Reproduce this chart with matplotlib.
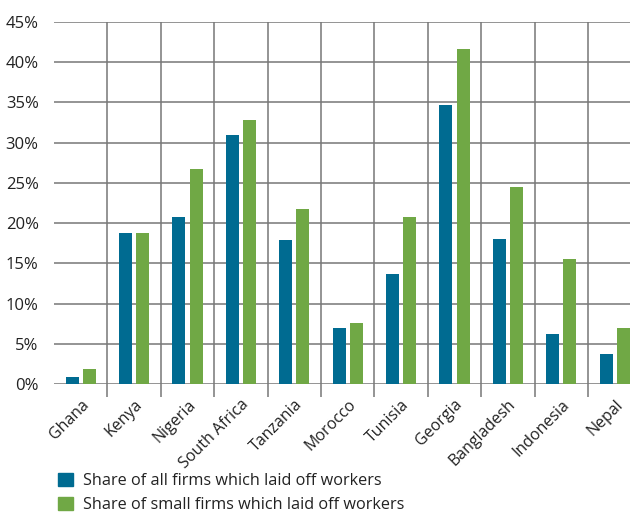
import numpy as np
import matplotlib.pyplot as plt
from matplotlib.patches import Patch

plt.rcParams['font.family'] = ['Open Sans', 'DejaVu Sans']

countries = ["Ghana", "Kenya", "Nigeria", "South Africa", "Tanzania", "Morocco",
             "Tunisia", "Georgia", "Bangladesh", "Indonesia", "Nepal"]
all_firms = [0.9, 18.8, 20.8, 30.9, 17.9, 7.0, 13.7, 34.7, 18.0, 6.2, 3.7]
small_firms = [1.9, 18.8, 26.7, 32.8, 21.8, 7.6, 20.8, 41.7, 24.5, 15.5, 7.0]

blue = "#006b91"
green = "#70a845"
grid_col = "#777777"

fig = plt.figure(figsize=(6.3, 5.12), dpi=100)
# axes runs past the right edge of the figure, so Nepal gets cut off
ax = fig.add_axes([54/630, 128/512, 587.4/630, 362/512])

x = np.arange(len(countries))
w = 0.245
off = 0.16
ax.bar(x - off, all_firms, w, color=blue, zorder=3)
ax.bar(x + off, small_firms, w, color=green, zorder=3)

ax.set_xlim(-0.5, len(countries) - 0.5)
ax.set_ylim(0, 45)
ax.set_yticks(np.arange(0, 46, 5))
ax.set_yticklabels([f"{v}%" for v in range(0, 46, 5)], fontsize=12, color="#222222")
ax.yaxis.grid(True, color=grid_col, linewidth=1.1, zorder=0)
ax.tick_params(axis='y', length=0, pad=11)

# category separators, drawn a bit below the baseline
ax.set_xticks(np.arange(0.5, len(countries) - 0.5, 1), minor=True)
ax.xaxis.grid(True, which='minor', color=grid_col, linewidth=1.1, zorder=0)
ax.tick_params(axis='x', which='minor', length=9, width=1.1, color=grid_col, direction='out')

ax.set_xticks(x)
ax.set_xticklabels(countries, rotation=45, ha='right', rotation_mode='anchor',
                   fontsize=11.5, color="#222222")
ax.tick_params(axis='x', which='major', length=0, pad=9)

for s in ax.spines.values():
    s.set_visible(False)

handles = [Patch(color=blue, label="Share of all firms which laid off workers"),
           Patch(color=green, label="Share of small firms which laid off workers")]
fig.legend(handles=handles, loc='upper left', bbox_to_anchor=(45/630, 1 - 460/512),
           frameon=False, fontsize=11.7, handlelength=0.9, handleheight=0.9,
           handletextpad=0.65, labelspacing=0.45, borderpad=0.3, labelcolor="#222222")

fig.savefig("out.png", dpi=100)
